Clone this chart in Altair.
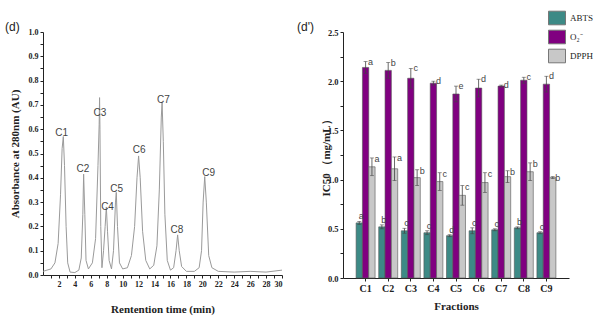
import altair as alt
import pandas as pd

# ---- chromatogram (d) ----
rt = [0.0, 0.5, 1.0, 1.5, 1.9, 2.2, 2.4, 2.55, 2.7, 2.9, 3.1, 3.4, 4.0, 4.5, 4.8, 5.0, 5.1, 5.25, 5.4, 5.7,
      6.2, 6.6, 6.9, 7.05, 7.1, 7.15, 7.25, 7.4, 7.6, 7.8, 7.95, 8.1, 8.3, 8.6, 8.85, 9.1, 9.2, 9.35, 9.6,
      10.0, 10.6, 11.1, 11.5, 11.8, 12.0, 12.2, 12.5, 12.9, 13.4, 13.9, 14.3, 14.6, 14.85, 14.95, 15.1,
      15.3, 15.6, 16.0, 16.4, 16.7, 16.9, 17.1, 17.4, 18.0, 19.0, 19.6, 19.9, 20.1, 20.3, 20.5, 20.8,
      21.2, 22.0, 24.0, 26.0, 28.0, 30.0]
absorb = [0.015, 0.02, 0.025, 0.05, 0.13, 0.33, 0.52, 0.57, 0.45, 0.2, 0.05, 0.012, 0.01, 0.02, 0.07, 0.25,
          0.415, 0.25, 0.06, 0.025, 0.05, 0.15, 0.45, 0.62, 0.73, 0.6, 0.2, 0.03, 0.1, 0.2, 0.28, 0.18, 0.06,
          0.025, 0.1, 0.3, 0.34, 0.2, 0.05, 0.025, 0.03, 0.08, 0.2, 0.4, 0.49, 0.4, 0.18, 0.06, 0.025, 0.04,
          0.12, 0.35, 0.65, 0.71, 0.55, 0.25, 0.06, 0.02, 0.03, 0.1, 0.165, 0.1, 0.035, 0.015, 0.015, 0.03,
          0.1, 0.3, 0.405, 0.3, 0.08, 0.03, 0.015, 0.012, 0.015, 0.012, 0.02]
peak_names = ["C1", "C2", "C3", "C4", "C5", "C6", "C7", "C8", "C9"]
peak_t = [2.35, 5.0, 7.15, 8.1, 9.25, 12.06, 15.1, 16.8, 20.8]
peak_y = [0.585, 0.436, 0.668, 0.28, 0.354, 0.514, 0.72, 0.185, 0.42]
x_ticks = [float(v) for v in range(1, 31)]
y_ticks_left = [round(i * 0.05, 2) for i in range(21)]

# ---- IC50 (d') ----
fractions = ["C1", "C2", "C3", "C4", "C5", "C6", "C7", "C8", "C9"]
series = ["ABTS", "O₂⁻", "DPPH"]
abts = [0.56, 0.52, 0.48, 0.46, 0.43, 0.48, 0.49, 0.51, 0.46]
abts_err = [0.015, 0.02, 0.025, 0.02, 0.01, 0.03, 0.01, 0.01, 0.01]
abts_sig = ["a", "b", "c", "c", "d", "c", "c", "b", "c"]
o2 = [2.14, 2.11, 2.03, 1.98, 1.87, 1.93, 1.95, 2.01, 1.97]
o2_err = [0.06, 0.08, 0.1, 0.02, 0.08, 0.09, 0.01, 0.03, 0.08]
o2_sig = ["a", "b", "c", "d", "e", "d", "d", "c", "d"]
dpph = [1.13, 1.11, 1.02, 0.98, 0.84, 0.97, 1.03, 1.08, 1.02]
dpph_err = [0.09, 0.12, 0.08, 0.09, 0.1, 0.1, 0.06, 0.09, 0.01]
dpph_sig = ["a", "a", "b", "c", "c", "c", "b", "b", "b"]
y_ticks_right = [round(i * 0.25, 2) for i in range(11)]
colors = ["#3d8a86", "#800080", "#c8c8c8"]

SERIF = "Liberation Serif"
SANS = "Liberation Sans"

chrom = pd.DataFrame({"t": rt, "a": absorb})
peaks = pd.DataFrame({"name": peak_names, "t": peak_t, "a": peak_y})

axL_x = alt.Axis(values=x_ticks, title="Rentention time (min)", labelOverlap=False,
                 labelExpr="(round(datum.value) % 2 == 0) ? format(datum.value, 'd') : ''",
                 titlePadding=15, tickSize=3)
axL_y = alt.Axis(values=y_ticks_left, title="Absorbance at 280nm (AU)",
                 labelOverlap=False, titlePadding=8, tickSize=3,
                 labelExpr="(round(datum.value*100) % 10 == 0) ? format(datum.value, '.1f') : ''")
scL_x = alt.Scale(domain=[0, 30], nice=False)
scL_y = alt.Scale(domain=[0, 1.0], nice=False)

line = alt.Chart(chrom).mark_line(color="#9a9a9a", strokeWidth=1).encode(
    x=alt.X("t:Q", scale=scL_x, axis=axL_x), y=alt.Y("a:Q", scale=scL_y, axis=axL_y))
plabels = alt.Chart(peaks).mark_text(font=SANS, fontSize=10, color="#444").encode(
    x=alt.X("t:Q", scale=scL_x, axis=axL_x), y=alt.Y("a:Q", scale=scL_y, axis=axL_y), text="name:N")
tagL = alt.Chart(pd.DataFrame({"s": ["(d)"]})).mark_text(
    font=SANS, fontSize=12, align="left", baseline="middle", color="#222").encode(
    x=alt.value(-38), y=alt.value(-5), text="s:N")
left = alt.layer(line, plabels, tagL).properties(width=239, height=243)

rows = []
for vals, errs, sig, s in [(abts, abts_err, abts_sig, series[0]), (o2, o2_err, o2_sig, series[1]),
                           (dpph, dpph_err, dpph_sig, series[2])]:
    for f, v, e, g in zip(fractions, vals, errs, sig):
        rows.append({"frac": f, "series": s, "v": v, "lo": v - e, "hi": v + e, "sig": g})
bars_df = pd.DataFrame(rows)

xR = alt.X("frac:N", sort=fractions, scale=alt.Scale(paddingInner=0.16, paddingOuter=0.58),
           axis=alt.Axis(title="Fractions", labelAngle=0, labelFontSize=10, titlePadding=7, tickSize=3))
xo = alt.XOffset("series:N", sort=series, scale=alt.Scale(paddingInner=0, paddingOuter=0))
axR_y = alt.Axis(values=y_ticks_right, title="IC50 （mg/mL）",
                 labelOverlap=False, titlePadding=-4, labelFontSize=8.5, tickSize=3,
                 labelExpr="(round(datum.value*100) % 50 == 0) ? format(datum.value, '.1f') : ''")
scR_y = alt.Scale(domain=[0, 2.5], nice=False)

def Y(field):
    return alt.Y(field, scale=scR_y, axis=axR_y, title="IC50 （mg/mL）")

bars = alt.Chart(bars_df).mark_bar(stroke="#555", strokeWidth=0.6).encode(
    x=xR, xOffset=xo, y=Y("v:Q"),
    color=alt.Color("series:N", sort=series,
                    scale=alt.Scale(domain=series, range=colors),
                    legend=alt.Legend(title=None, orient="none", legendX=505, legendY=-23,
                                      symbolType="M-1,-0.8H1V0.8H-1Z", symbolSize=289,
                                      symbolStrokeColor="#777", symbolStrokeWidth=1,
                                      symbolOpacity=1, rowPadding=1,
                                      labelFont=SERIF, labelFontSize=9, labelColor="#222")))
err = alt.Chart(bars_df).mark_rule(color="#444", strokeWidth=0.8).encode(
    x=xR, xOffset=xo, y=Y("lo:Q"), y2="hi:Q")
capT = alt.Chart(bars_df).mark_tick(color="#444", size=4, thickness=0.8, orient="horizontal").encode(
    x=xR, xOffset=xo, y=Y("hi:Q"))
capB = alt.Chart(bars_df).mark_tick(color="#444", size=4, thickness=0.8, orient="horizontal").encode(
    x=xR, xOffset=xo, y=Y("lo:Q"))

def letters(sname, dx, dy):
    return alt.Chart(bars_df).transform_filter(alt.datum.series == sname).mark_text(
        font=SANS, fontSize=9, color="#444", dx=dx, dy=dy).encode(
        x=xR, xOffset=xo, y=Y("hi:Q"), text="sig:N")

tagR = alt.Chart(pd.DataFrame({"s": ["(d')"]})).mark_text(
    font=SANS, fontSize=12, align="left", baseline="middle", color="#222").encode(
    x=alt.value(-46), y=alt.value(-5), text="s:N")

right = alt.layer(bars, err, capT, capB, letters(series[0], 2, -5), letters(series[1], 5, 0),
                  letters(series[2], 5, 1), tagR).properties(width=226, height=246)

chart = alt.hconcat(left, right, spacing=13).configure_view(stroke=None).configure_axis(
    domainColor="#222", tickColor="#222", grid=False,
    labelFont=SERIF, labelFontWeight="bold", labelFontSize=8, labelColor="#222",
    titleFont=SERIF, titleFontWeight="bold", titleFontSize=11, titleColor="#222",
    labelPadding=2
).properties(padding={"left": 5, "top": 9, "right": 2, "bottom": 2}, background="white")

chart.save("out.html", embed_options={"renderer": "svg", "actions": False})
